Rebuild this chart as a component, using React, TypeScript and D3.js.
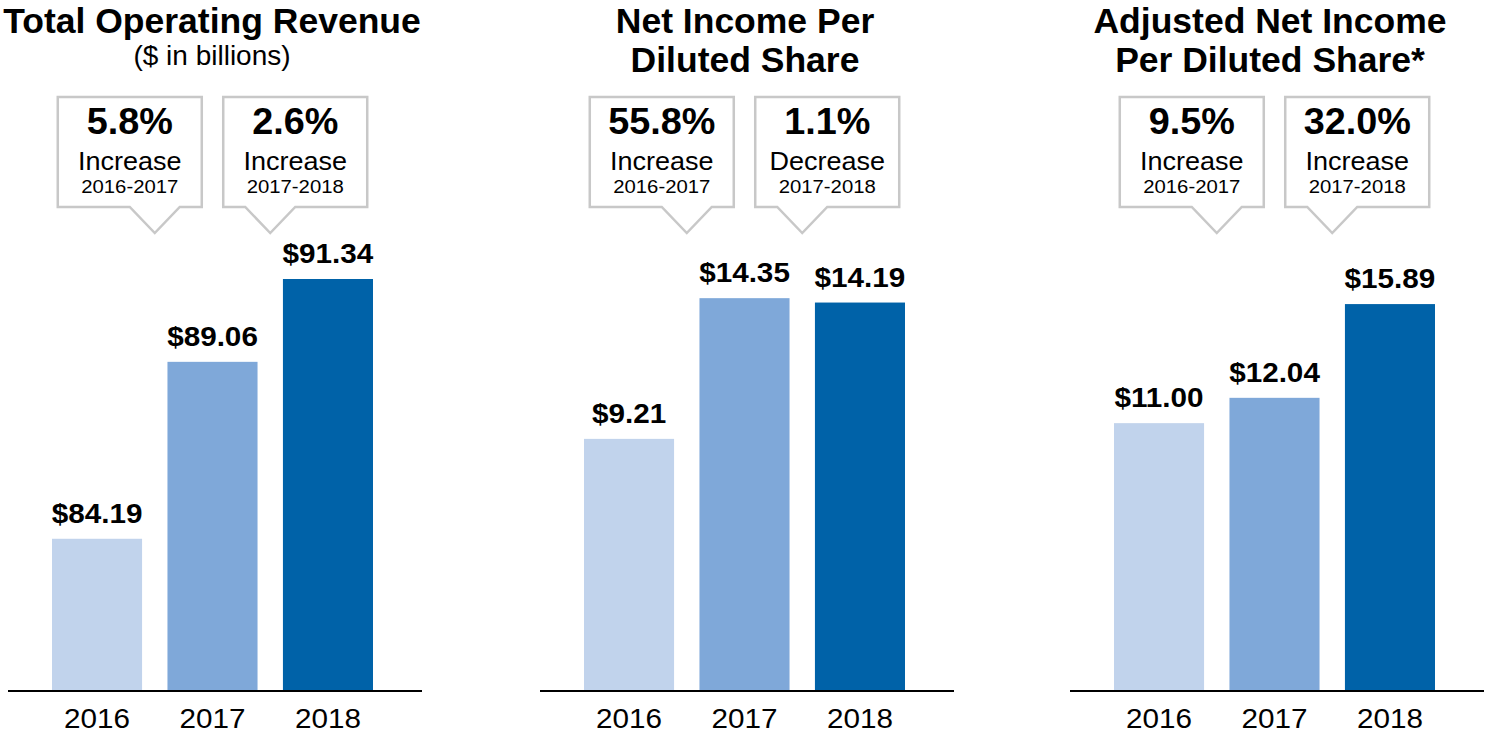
import React from "react";
import * as d3 from "d3";

const years = ["2016", "2017", "2018"];
const revenue = [84.19, 89.06, 91.34];
const netIncomeEPS = [9.21, 14.35, 14.19];
const adjustedEPS = [11.0, 12.04, 15.89];
const seriesValues = [revenue, netIncomeEPS, adjustedEPS];

const titles = [
  ["Total Operating Revenue"],
  ["Net Income Per", "Diluted Share"],
  ["Adjusted Net Income", "Per Diluted Share*"],
];
const subtitles = ["($ in billions)", "", ""];
const changePct = [
  ["5.8%", "2.6%"],
  ["55.8%", "1.1%"],
  ["9.5%", "32.0%"],
];
const changeDir = [
  ["Increase", "Increase"],
  ["Increase", "Decrease"],
  ["Increase", "Increase"],
];
const changePeriods = ["2016-2017", "2017-2018"];
const yDomains: [number, number][] = [
  [80, 91.34],
  [0, 15.05],
  [0, 16.92],
];

const barColors = ["#c1d3ec", "#7fa8d9", "#0062a8"];
const FONT = "'Liberation Sans', Arial, Helvetica, sans-serif";

// layout
const W = 1485;
const H = 739;
const panelX = [8, 540, 1070];
const titleX = [212, 745, 1270];
const panelW = 414;
const baseY = 691;
const topY = 279;
const boxTop = 97;
const boxBottom = 207;
const tipY = 233;
const boxW = 144;
const tipHalf = 25;

const fmt = d3.format("$.2f");

function Panel({ p }: { p: number }) {
  const x0 = panelX[p];
  const x = d3
    .scaleBand<string>()
    .domain(years)
    .range([x0 + 44, x0 + 365])
    .paddingInner(0.22)
    .paddingOuter(0);
  const y = d3.scaleLinear().domain(yDomains[p]).range([baseY, topY]);
  const vals = seriesValues[p];
  const centers = years.map((yr) => (x(yr) as number) + x.bandwidth() / 2);

  const callouts = [0, 1].map((i) => {
    const tipX = (centers[i] + centers[i + 1]) / 2;
    const cx = i === 0 ? tipX - 25 : tipX + 25;
    const l = cx - boxW / 2;
    const r = cx + boxW / 2;
    const path = d3.path();
    path.moveTo(l, boxTop);
    path.lineTo(r, boxTop);
    path.lineTo(r, boxBottom);
    path.lineTo(tipX + tipHalf, boxBottom);
    path.lineTo(tipX, tipY);
    path.lineTo(tipX - tipHalf, boxBottom);
    path.lineTo(l, boxBottom);
    path.closePath();
    return { cx, d: path.toString(), i };
  });

  const tx = titleX[p];
  return (
    <g>
      {titles[p].map((t, i) => (
        <text
          key={t}
          x={tx}
          y={33 + i * 39}
          textAnchor="middle"
          fontFamily={FONT}
          fontWeight="bold"
          fontSize={35.5}
          fill="#000"
        >
          {t}
        </text>
      ))}
      {subtitles[p] && (
        <text x={tx} y={65} textAnchor="middle" fontFamily={FONT} fontSize={28} fill="#000">
          {subtitles[p]}
        </text>
      )}
      {callouts.map((c) => (
        <g key={c.i}>
          <path d={c.d} fill="#fff" stroke="#c8c8c8" strokeWidth={2.5} strokeLinejoin="miter" />
          <text
            transform={`translate(${c.cx},134) scale(1.05,1)`}
            textAnchor="middle"
            fontFamily={FONT}
            fontWeight="bold"
            fontSize={36}
            fill="#000"
          >
            {changePct[p][c.i]}
          </text>
          <text
            transform={`translate(${c.cx},170) scale(1.02,1)`}
            textAnchor="middle"
            fontFamily={FONT}
            fontSize={26.5}
            fill="#000"
          >
            {changeDir[p][c.i]}
          </text>
          <text
            transform={`translate(${c.cx},193) scale(1.07,1)`}
            textAnchor="middle"
            fontFamily={FONT}
            fontSize={19}
            fill="#000"
          >
            {changePeriods[c.i]}
          </text>
        </g>
      ))}
      {years.map((yr, i) => (
        <g key={yr}>
          <rect
            x={x(yr)}
            y={y(vals[i])}
            width={x.bandwidth()}
            height={baseY - y(vals[i])}
            fill={barColors[i]}
          />
          <text
            transform={`translate(${centers[i]},${y(vals[i]) - 16}) scale(1.06,1)`}
            textAnchor="middle"
            fontFamily={FONT}
            fontWeight="bold"
            fontSize={28}
            fill="#000"
          >
            {fmt(vals[i])}
          </text>
          <text
            transform={`translate(${centers[i]},728) scale(1.06,1)`}
            textAnchor="middle"
            fontFamily={FONT}
            fontSize={28}
            fill="#000"
          >
            {yr}
          </text>
        </g>
      ))}
      <line x1={x0} x2={x0 + panelW} y1={baseY} y2={baseY} stroke="#000" strokeWidth={2} />
    </g>
  );
}

export default function App() {
  return (
    <svg
      width={W}
      height={H}
      viewBox={`0 0 ${W} ${H}`}
      style={{ position: "absolute", left: 0, top: 0, background: "#fff" }}
    >
      <rect width={W} height={H} fill="#fff" />
      {[0, 1, 2].map((p) => (
        <Panel key={p} p={p} />
      ))}
    </svg>
  );
}
